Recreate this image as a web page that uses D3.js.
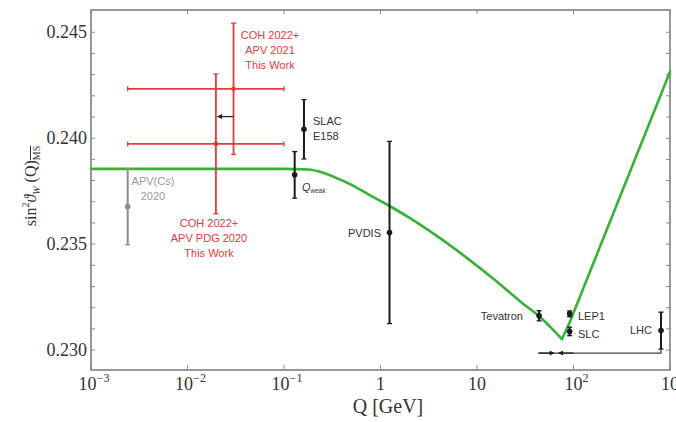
<!DOCTYPE html>
<html>
<head>
<meta charset="utf-8">
<script src="https://cdn.jsdelivr.net/npm/d3@7"></script>
<style>
body { margin: 0; background: #fff; }
</style>
</head>
<body>
<div id="chart"></div>
<script>
// running of the weak mixing angle (green curve), low-Q part up to the minimum
var curveQ = [0.001, 0.1, 0.18, 0.25, 0.35, 0.5, 0.75, 1.24, 2, 4, 7.9, 15, 30, 44, 76];
var curveS = [0.23855, 0.23855, 0.23852, 0.23838, 0.23812, 0.23780, 0.23735, 0.23680, 0.23624, 0.23533, 0.23434, 0.23334, 0.23219, 0.23160, 0.23052];
// high-Q branch
var curveHiQ = [76, 91.2, 1000];
var curveHiS = [0.23052, 0.23130, 0.24314];

// measurements
var expName = ["APV(Cs)", "COH+PDG", "COH+2021", "SLAC", "Qweak", "PVDIS", "Tevatron", "LEP1", "SLC", "LHC"];
var expQ    = [0.0024, 0.0197, 0.030, 0.161, 0.129, 1.24, 44, 91.2, 91.2, 807];
var expS    = [0.23677, 0.23973, 0.24233, 0.24042, 0.23827, 0.23555, 0.23162, 0.23171, 0.23088, 0.23092];
var expErr  = [0.0018, 0.0033, 0.0031, 0.0014, 0.0011, 0.0043, 0.00024, 0.00014, 0.0002, 0.00087];
var expQlo  = [null, 0.0024, 0.0024, null, null, null, null, null, null, null];
var expQhi  = [null, 0.1, 0.1, null, null, null, null, null, null, null];
var expKind = ["gray", "red", "red", "black", "black", "black", "black", "black", "black", "black"];

// shift arrows
var shiftQ = [0.030, 0.0205];
var shiftS = 0.24102;
var rangeQ = [43.3, 807];
var rangeS = 0.22986;

var xTicks = [1e-3, 1e-2, 1e-1, 1, 10, 100, 1000];
var xTickBase = ["10", "10", "10", "1", "10", "10", "10"];
var xTickExp  = ["\u22123", "\u22122", "\u22121", "", "", "2", "3"];
var yTicks = [0.230, 0.235, 0.240, 0.245];

var W = 676, H = 422;
var margin = {top: 10, right: 6, bottom: 52, left: 91};
var colors = {gray: "#8d8d8d", red: "#e63b3d", black: "#1a1a1a"};

var svg = d3.select("#chart").append("svg")
    .attr("width", W)
    .attr("height", H);

var x = d3.scaleLog().domain([1e-3, 1e3]).range([margin.left, W - margin.right]);
var y = d3.scaleLinear().domain([0.22906, 0.24605]).range([H - margin.bottom, margin.top]);

var defs = svg.append("defs");
defs.append("marker")
    .attr("id", "head")
    .attr("viewBox", "0 0 10 10")
    .attr("refX", 9).attr("refY", 5)
    .attr("markerWidth", 6).attr("markerHeight", 5)
    .attr("markerUnits", "userSpaceOnUse")
    .attr("orient", "auto")
    .append("path").attr("d", "M0,0L10,5L0,10Z").attr("fill", colors.black);

// frame
var frame = svg.append("g");
frame.append("rect")
    .attr("x", margin.left).attr("y", margin.top)
    .attr("width", W - margin.right - margin.left)
    .attr("height", H - margin.bottom - margin.top)
    .attr("fill", "none").attr("stroke", "#777").attr("stroke-width", 1.5);

// minor y ticks every 0.001
var minorY = d3.range(0.230, 0.2455, 0.001);
frame.selectAll(".ym").data(minorY).join("line")
    .attr("x1", margin.left).attr("x2", margin.left + 4)
    .attr("y1", d => y(d)).attr("y2", d => y(d))
    .attr("stroke", "#888").attr("stroke-width", 1);
frame.selectAll(".ymr").data(minorY).join("line")
    .attr("x1", W - margin.right).attr("x2", W - margin.right - 4)
    .attr("y1", d => y(d)).attr("y2", d => y(d))
    .attr("stroke", "#888").attr("stroke-width", 1);

// x decade ticks (bottom and top)
frame.selectAll(".xt").data(xTicks).join("line")
    .attr("x1", d => x(d)).attr("x2", d => x(d))
    .attr("y1", H - margin.bottom).attr("y2", H - margin.bottom - 5)
    .attr("stroke", "#888");
frame.selectAll(".xtt").data(xTicks).join("line")
    .attr("x1", d => x(d)).attr("x2", d => x(d))
    .attr("y1", margin.top).attr("y2", margin.top + 4)
    .attr("stroke", "#888");

// y tick labels
svg.selectAll(".ylab").data(yTicks).join("text")
    .attr("x", margin.left - 4)
    .attr("y", d => y(d) + 6)
    .attr("text-anchor", "end")
    .attr("font-family", "Liberation Serif, serif")
    .attr("font-size", 18)
    .attr("fill", "#333")
    .text(d3.format(".3f"));

// x tick labels
var xl = svg.selectAll(".xlab").data(xTicks).join("text")
    .attr("x", (d, i) => x(d) + (xTickExp[i] ? 3 : 0))
    .attr("y", 390)
    .attr("text-anchor", "middle")
    .attr("font-family", "Liberation Serif, serif")
    .attr("font-size", 18)
    .attr("fill", "#333");
xl.append("tspan").text((d, i) => xTickBase[i]);
xl.append("tspan")
    .attr("dy", -8).attr("font-size", 12)
    .text((d, i) => xTickExp[i]);

// axis titles
svg.append("text")
    .attr("x", 388).attr("y", 413)
    .attr("text-anchor", "middle")
    .attr("font-family", "Liberation Serif, serif")
    .attr("font-size", 20)
    .attr("fill", "#333")
    .text("Q [GeV]");

var yt = svg.append("text")
    .attr("transform", "translate(36,186) rotate(-90)")
    .attr("text-anchor", "middle")
    .attr("font-family", "Liberation Serif, DejaVu Serif, serif")
    .attr("font-size", 16)
    .attr("fill", "#333");
yt.append("tspan").text("sin");
yt.append("tspan").attr("dy", -7).attr("font-size", 10).text("2");
yt.append("tspan").attr("dy", 7).attr("font-style", "italic").text("\u03d1");
yt.append("tspan").attr("dy", 4).attr("font-size", 10).attr("font-style", "italic").text("W");
yt.append("tspan").attr("dy", -4).text(" (Q)");
yt.append("tspan").attr("dy", 4).attr("font-size", 10)
    .attr("text-decoration", "overline").text("MS");

// green curve
var line = d3.line().x(d => x(d[0])).y(d => y(d[1]));
svg.append("path")
    .datum(curveQ.map((q, i) => [q, curveS[i]]))
    .attr("fill", "none")
    .attr("stroke", "#36b336")
    .attr("stroke-width", 2.6)
    .attr("stroke-linecap", "round")
    .attr("d", line.curve(d3.curveMonotoneX));
svg.append("path")
    .datum(curveHiQ.map((q, i) => [q, curveHiS[i]]))
    .attr("fill", "none")
    .attr("stroke", "#36b336")
    .attr("stroke-width", 2.6)
    .attr("stroke-linecap", "round")
    .attr("stroke-linejoin", "round")
    .attr("d", line.curve(d3.curveLinear));

// measurements
var pts = expName.map((n, i) => ({
    name: n, q: expQ[i], s: expS[i], err: expErr[i],
    qlo: expQlo[i], qhi: expQhi[i], col: colors[expKind[i]], kind: expKind[i]
}));

var g = svg.append("g");
var cap = 2.5;
pts.forEach(p => {
    var sw = p.kind === "red" ? 1.8 : 2;
    var cx = x(p.q), cy = y(p.s);
    g.append("line")
        .attr("x1", cx).attr("x2", cx)
        .attr("y1", y(p.s + p.err)).attr("y2", y(p.s - p.err))
        .attr("stroke", p.col).attr("stroke-width", sw);
    [p.s + p.err, p.s - p.err].forEach(v => {
        g.append("line")
            .attr("x1", cx - cap).attr("x2", cx + cap)
            .attr("y1", y(v)).attr("y2", y(v))
            .attr("stroke", p.col).attr("stroke-width", 1.3);
    });
    if (p.qlo !== null) {
        g.append("line")
            .attr("x1", x(p.qlo)).attr("x2", x(p.qhi))
            .attr("y1", cy).attr("y2", cy)
            .attr("stroke", p.col).attr("stroke-width", sw);
        [p.qlo, p.qhi].forEach(v => {
            g.append("line")
                .attr("x1", x(v)).attr("x2", x(v))
                .attr("y1", cy - cap).attr("y2", cy + cap)
                .attr("stroke", p.col).attr("stroke-width", 1.3);
        });
    }
    g.append("circle")
        .attr("cx", cx).attr("cy", cy)
        .attr("r", p.kind === "red" ? 2.3 : 2.8)
        .attr("fill", p.col);
});

// arrow between the two red points
svg.append("line")
    .attr("x1", x(shiftQ[0])).attr("x2", x(shiftQ[1]))
    .attr("y1", y(shiftS)).attr("y2", y(shiftS))
    .attr("stroke", colors.black).attr("stroke-width", 1.2)
    .attr("marker-end", "url(#head)");

// Z-pole range line at the bottom
var lhcBottom = y(expS[9] - expErr[9]);
svg.append("path")
    .attr("d", "M" + x(rangeQ[0]) + "," + y(rangeS) + "H" + x(rangeQ[1]) + "V" + lhcBottom)
    .attr("fill", "none")
    .attr("stroke", "#444").attr("stroke-width", 1.3);
svg.append("line")
    .attr("x1", x(rangeQ[0])).attr("x2", x(63))
    .attr("y1", y(rangeS)).attr("y2", y(rangeS))
    .attr("stroke", "#222").attr("stroke-width", 1.2)
    .attr("marker-end", "url(#head)");
svg.append("line")
    .attr("x1", x(100)).attr("x2", x(70))
    .attr("y1", y(rangeS)).attr("y2", y(rangeS))
    .attr("stroke", "#222").attr("stroke-width", 1.2)
    .attr("marker-end", "url(#head)");

// annotations
function note(lines, px, py, anchor, color) {
    var t = svg.append("text")
        .attr("font-family", "Liberation Sans, Arial, sans-serif")
        .attr("font-size", 11)
        .attr("fill", color)
        .attr("text-anchor", anchor);
    lines.forEach((l, i) => {
        t.append("tspan").attr("x", px).attr("y", py + i * 15).text(l);
    });
    return t;
}
note(["COH 2022+", "APV 2021", "This Work"], 270, 39, "middle", colors.red);
note(["COH 2022+", "APV PDG 2020", "This Work"], 209, 227, "middle", colors.red);
note(["APV(Cs)", "2020"], 153, 185, "middle", "#9a9a9a");
note(["SLAC", "E158"], 313, 125, "start", "#333");
note(["PVDIS"], 381, 237, "end", "#333");
note(["Tevatron"], 523, 320, "end", "#333");
note(["LEP1"], 578, 320, "start", "#333");
note(["SLC"], 578, 338, "start", "#333");
note(["LHC"], 652, 334, "end", "#333");

var qw = svg.append("text")
    .attr("x", 302).attr("y", 191)
    .attr("font-family", "Liberation Sans, Arial, sans-serif")
    .attr("font-size", 11)
    .attr("fill", "#333");
qw.append("tspan").attr("font-style", "italic").text("Q");
qw.append("tspan").attr("dy", 2).attr("font-size", 6.5).text("weak");
</script>
</body>
</html>
